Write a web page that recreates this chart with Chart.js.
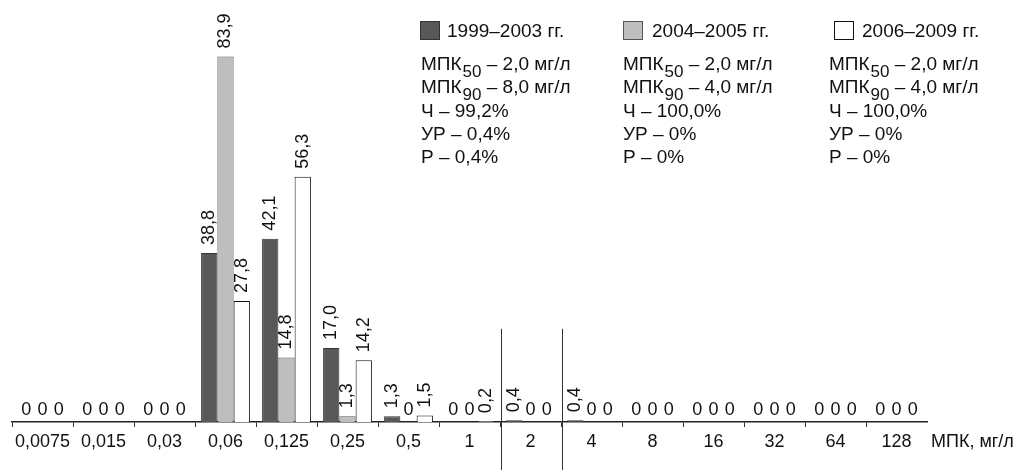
<!DOCTYPE html>
<html>
<head>
<meta charset="utf-8">
<script src="https://cdn.jsdelivr.net/npm/chart.js@4/dist/chart.umd.min.js"></script>
<style>
  html, body { margin: 0; padding: 0; background: #fff; }
</style>
</head>
<body>
<canvas id="micChart" width="1030" height="470"></canvas>
<script>
// MIC values, mg/l (x axis)
const categories = ['0,0075', '0,015', '0,03', '0,06', '0,125', '0,25', '0,5', '1', '2', '4', '8', '16', '32', '64', '128'];

// share of strains, % for each period
const period1 = [0, 0, 0, 38.8, 42.1, 17.0, 1.3, 0, 0.4, 0.4, 0, 0, 0, 0, 0];
const period2 = [0, 0, 0, 83.9, 14.8, 1.3, 0, 0, 0, 0, 0, 0, 0, 0, 0];
const period3 = [0, 0, 0, 27.8, 56.3, 14.2, 1.5, 0.2, 0, 0, 0, 0, 0, 0, 0];

// legend texts
const periodNames = ['1999–2003 гг.', '2004–2005 гг.', '2006–2009 гг.'];
const mic50 = ['2,0', '2,0', '2,0'];
const mic90 = ['8,0', '4,0', '4,0'];
const sensitive = ['99,2%', '100,0%', '100,0%'];
const intermediate = ['0,4%', '0%', '0%'];
const resistant = ['0,4%', '0%', '0%'];

// categories that get a separator line on their left edge
const separators = ['2', '4'];

const FONT = '"Liberation Sans", Arial, Helvetica, sans-serif';
const TEXT = '#111';

function fmt(v) {
  return v.toFixed(1).replace('.', ',');
}

// Value labels: "0" flat, others turned upright above the bar
const barLabels = {
  id: 'barLabels',
  afterDatasetsDraw(chart) {
    const ctx = chart.ctx;
    const base = chart.scales.y.getPixelForValue(0);
    ctx.save();
    ctx.fillStyle = TEXT;
    ctx.font = '18px ' + FONT;
    chart.data.datasets.forEach(function(ds, i) {
      chart.getDatasetMeta(i).data.forEach(function(bar, j) {
        const v = ds.data[j];
        if (v === 0) {
          ctx.textAlign = 'center';
          ctx.textBaseline = 'alphabetic';
          ctx.fillText('0', bar.x, base - 7);
        } else {
          ctx.save();
          ctx.translate(bar.x, bar.y - 8);
          ctx.rotate(-Math.PI / 2);
          ctx.textAlign = 'left';
          ctx.textBaseline = 'middle';
          ctx.fillText(fmt(v), 0, 0);
          ctx.restore();
        }
      });
    });
    ctx.restore();
  }
};

// Separator lines, axis title and the legend block
const extras = {
  id: 'extras',
  afterDraw(chart) {
    const ctx = chart.ctx;
    const x = chart.scales.x;
    const y = chart.scales.y;
    ctx.save();

    // separators
    ctx.strokeStyle = '#333';
    ctx.lineWidth = 1;
    separators.forEach(function(c) {
      const i = categories.indexOf(c);
      const px = Math.round((x.getPixelForValue(i - 1) + x.getPixelForValue(i)) / 2) + 1.5;
      ctx.beginPath();
      ctx.moveTo(px, y.getPixelForValue(21.4));
      ctx.lineTo(px, chart.height);
      ctx.stroke();
    });

    // axis title
    ctx.fillStyle = TEXT;
    ctx.font = '18px ' + FONT;
    ctx.textAlign = 'left';
    ctx.textBaseline = 'middle';
    ctx.fillText('МПК, мг/л', chart.chartArea.right + 4, 442);

    // legend
    const cols = [
      { box: 420, text: 447, lines: 421 },
      { box: 623, text: 652, lines: 623 },
      { box: 834, text: 862, lines: 829 }
    ];
    ctx.textBaseline = 'alphabetic';
    chart.data.datasets.forEach(function(ds, i) {
      const c = cols[i];
      ctx.fillStyle = ds.backgroundColor;
      ctx.fillRect(c.box, 21, 20, 19);
      ctx.strokeStyle = ds.borderColor;
      ctx.lineWidth = 1;
      ctx.strokeRect(c.box + 0.5, 21.5, 19, 18);

      ctx.fillStyle = TEXT;
      ctx.font = '19px ' + FONT;
      ctx.fillText(periodNames[i], c.text, 37);

      micLine(ctx, c.lines, 70, '50', mic50[i]);
      micLine(ctx, c.lines, 93, '90', mic90[i]);
      ctx.font = '19px ' + FONT;
      ctx.fillText('Ч – ' + sensitive[i], c.lines, 117);
      ctx.fillText('УР – ' + intermediate[i], c.lines, 140);
      ctx.fillText('Р – ' + resistant[i], c.lines, 163);
    });
    ctx.restore();
  }
};

function micLine(ctx, x, y, sub, val) {
  ctx.font = '19px ' + FONT;
  ctx.fillText('МПК', x, y);
  let w = ctx.measureText('МПК').width;
  ctx.font = '17px ' + FONT;
  ctx.fillText(sub, x + w + 1, y + 7);
  w += ctx.measureText(sub).width + 1;
  ctx.font = '19px ' + FONT;
  ctx.fillText(' – ' + val + ' мг/л', x + w, y);
}

const ctx = document.getElementById('micChart').getContext('2d');

const micChart = new Chart(ctx, {
  type: 'bar',
  data: {
    labels: categories,
    datasets: [{
      label: periodNames[0],
      data: period1,
      backgroundColor: '#58585a',
      borderColor: '#333',
      borderWidth: 1
    }, {
      label: periodNames[1],
      data: period2,
      backgroundColor: '#bdbec0',
      borderColor: '#555',
      borderWidth: 1
    }, {
      label: periodNames[2],
      data: period3,
      backgroundColor: '#ffffff',
      borderColor: '#111',
      borderWidth: 1
    }]
  },
  options: {
    responsive: false,
    animation: false,
    devicePixelRatio: 1,
    layout: {
      padding: { top: 30, left: 12, right: 103, bottom: 0 }
    },
    datasets: {
      bar: {
        categoryPercentage: 0.8,
        barPercentage: 1
      }
    },
    scales: {
      x: {
        grid: {
          drawOnChartArea: false,
          tickLength: 5,
          offset: true,
          color: function(c) {
            return c.type === 'tick' ? '#333' : 'rgba(0,0,0,0)';
          }
        },
        border: { display: true, color: '#222', width: 1.5 },
        ticks: {
          font: { size: 18, family: FONT },
          color: TEXT,
          padding: 4,
          maxRotation: 0,
          autoSkip: false
        },
        afterFit: function(scale) {
          scale.height = 48;
        }
      },
      y: {
        display: false,
        min: 0,
        max: 90
      }
    },
    plugins: {
      legend: { display: false },
      tooltip: { enabled: false }
    }
  },
  plugins: [barLabels, extras]
});
</script>
</body>
</html>
